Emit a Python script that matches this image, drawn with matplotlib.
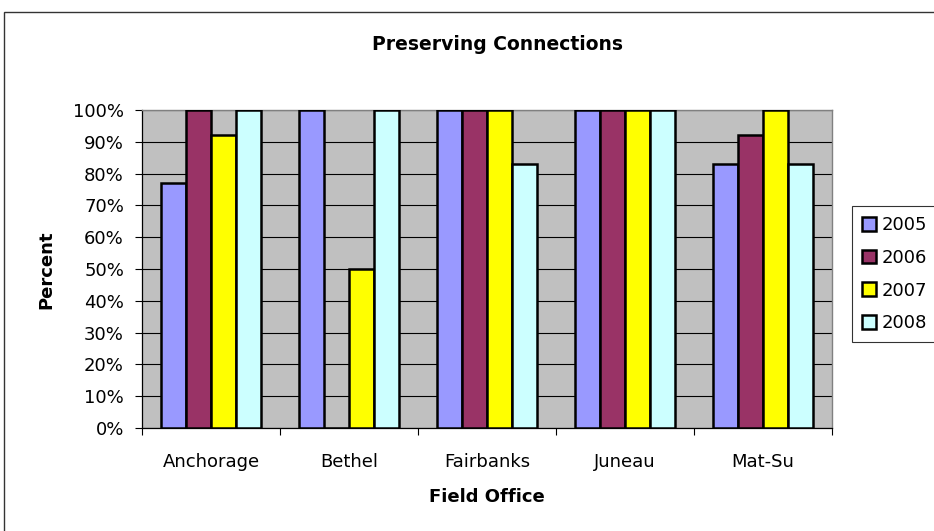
import numpy as np
import matplotlib
matplotlib.use("Agg")
import matplotlib.pyplot as plt
from matplotlib.patches import Rectangle
from matplotlib.ticker import FuncFormatter, FixedLocator

offices = ["Anchorage", "Bethel", "Fairbanks", "Juneau", "Mat-Su"]
years = ["2005", "2006", "2007", "2008"]
pct_2005 = [77, 100, 100, 100, 83]
pct_2006 = [100, 0, 100, 100, 92]
pct_2007 = [92, 50, 100, 100, 100]
pct_2008 = [100, 100, 83, 100, 83]
colors = ["#9999FF", "#993366", "#FFFF00", "#CCFFFF"]

plt.rcParams["font.family"] = ["DejaVu Sans"]

fig = plt.figure(figsize=(9.34, 5.31), dpi=100)
W, H = 934, 531
ax = fig.add_axes([142 / W, 1 - 428 / H, 690 / W, 318 / H])
ax.set_facecolor("#C0C0C0")

x = np.arange(len(offices))
w = 0.182
series = [pct_2005, pct_2006, pct_2007, pct_2008]
for i, vals in enumerate(series):
    ax.bar(x + (i - 1.5) * w, vals, width=w, color=colors[i],
           edgecolor="black", linewidth=1.8, label=years[i], zorder=3)

ax.set_xlim(-0.5, len(offices) - 0.5)
ax.set_ylim(0, 100)
ax.set_yticks(np.arange(0, 101, 10))
ax.yaxis.set_major_formatter(FuncFormatter(lambda v, p: "%d%%" % v))
ax.grid(axis="y", color="black", linewidth=0.8, zorder=1)
ax.set_axisbelow(True)

ax.set_xticks(x)
ax.set_xticklabels(offices)
ax.xaxis.set_minor_locator(FixedLocator(np.arange(-0.5, len(offices), 1.0)))
ax.tick_params(axis="x", which="major", length=0, pad=18, labelsize=13)
ax.tick_params(axis="x", which="minor", length=5, width=0.8, color="black")
ax.tick_params(axis="y", length=5, width=0.8, pad=8, labelsize=13)

for s in ["top", "right"]:
    ax.spines[s].set_color("#808080")
    ax.spines[s].set_linewidth(1.0)
for s in ["left", "bottom"]:
    ax.spines[s].set_color("black")
    ax.spines[s].set_linewidth(0.9)

fig.text(497 / W, 1 - 44 / H, "Preserving Connections", ha="center", va="center",
         fontsize=13.5, fontweight="bold")
fig.text(46 / W, 1 - 270 / H, "Percent", ha="center", va="center", rotation=90,
         fontsize=13, fontweight="bold")
fig.text(487 / W, 1 - 497 / H, "Field Office", ha="center", va="center",
         fontsize=13, fontweight="bold")

leg = fig.legend(loc="upper left", bbox_to_anchor=(852 / W, 1 - 206 / H),
                 fontsize=13, frameon=True, fancybox=False, handlelength=0.8,
                 handleheight=0.8, handletextpad=0.3, borderpad=0.55,
                 labelspacing=0.82, borderaxespad=0)
leg.get_frame().set_edgecolor("black")
leg.get_frame().set_linewidth(0.8)

# outer chart border
fig.add_artist(Rectangle((4 / W, -0.1), 1.2, 1 - 12 / H + 0.1, transform=fig.transFigure,
                         fill=False, edgecolor="#333333", linewidth=1.0))

fig.savefig("out.png", dpi=100)
